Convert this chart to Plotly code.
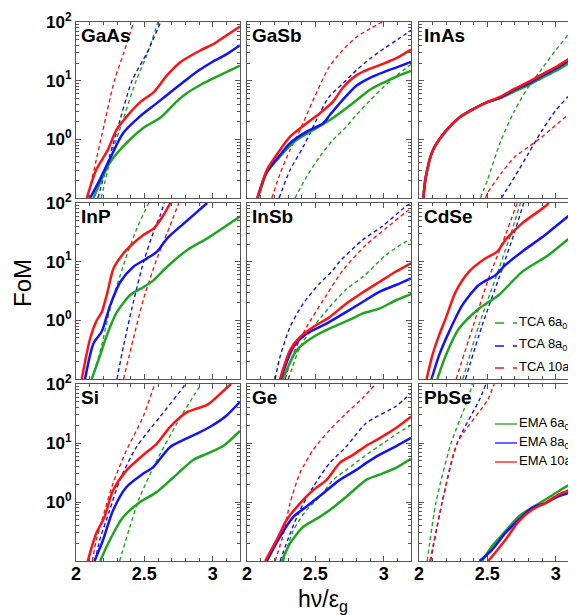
import plotly.graph_objects as go

# ---------------- data ----------------
materials = ["GaAs", "GaSb", "InAs", "InP", "InSb", "CdSe", "Si", "Ge", "PbSe"]
sizes = ["6", "8", "10"]
size_colors = {"6": "#1fa51f", "8": "#1212ff", "10": "#ff1212"}

GaAs = {
    "EMA6": ([2.128, 2.245, 2.344, 2.49, 2.613, 2.736, 2.81, 2.9, 3.0, 3.1, 3.2],
             [0.1, 0.39, 0.75, 1.55, 2.3, 4.4, 6.1, 8.2, 10.8, 14, 18]),
    "EMA8": ([2.103, 2.172, 2.245, 2.344, 2.466, 2.589, 2.712, 2.81, 2.9, 3.0, 3.1, 3.2],
             [0.1, 0.2, 0.45, 1.27, 2.44, 4.1, 6.95, 10.5, 15, 21, 28, 40]),
    "EMA10": ([2.079, 2.147, 2.233, 2.295, 2.393, 2.47, 2.569, 2.667, 2.765, 2.912, 3.01, 3.1, 3.2],
              [0.1, 0.30, 0.66, 1.44, 2.8, 4.3, 6.4, 12.4, 20.8, 33, 42.6, 59, 84]),
    "TCA6": ([2.184, 2.27, 2.319, 2.44, 2.52, 2.6], [0.1, 0.66, 1.44, 10, 28, 100]),
    "TCA8": ([2.16, 2.245, 2.295, 2.41, 2.52, 2.62], [0.1, 0.51, 1.27, 10, 30, 100]),
    "TCA10": ([2.086, 2.186, 2.282, 2.35, 2.422], [0.1, 1.1, 10.2, 30, 100]),
}
GaSb = {
    "EMA6": ([2.08, 2.145, 2.242, 2.364, 2.485, 2.606, 2.727, 2.8, 2.9, 3.0, 3.1, 3.2],
             [0.1, 0.27, 0.51, 0.98, 1.44, 2.14, 3.4, 4.6, 7.0, 9.3, 11.9, 14.6]),
    "EMA8": ([2.075, 2.145, 2.242, 2.315, 2.436, 2.558, 2.606, 2.727, 2.8, 2.9, 3.0, 3.1, 3.2],
             [0.1, 0.28, 0.54, 0.86, 1.35, 1.88, 2.6, 5.5, 8.2, 11.2, 14, 17, 20.8]),
    "EMA10": ([2.078, 2.145, 2.242, 2.315, 2.436, 2.533, 2.63, 2.7, 2.8, 2.9, 3.0, 3.1, 3.2],
              [0.1, 0.30, 0.66, 1.11, 1.88, 2.79, 4.4, 7.5, 12.3, 16, 19.5, 24.6, 33.8]),
    "TCA6": ([2.351, 2.436, 2.533, 2.63, 2.727, 2.8, 2.9, 3.0, 3.1, 3.2],
             [0.1, 0.23, 0.51, 0.98, 1.64, 2.6, 4.6, 7.8, 12.5, 19]),
    "TCA8": ([2.235, 2.315, 2.412, 2.533, 2.6, 2.7, 2.8, 2.9, 3.0, 3.1, 3.2],
             [0.1, 0.30, 0.75, 2.8, 5.3, 8.9, 15, 23.7, 35, 50, 72]),
    "TCA10": ([2.182, 2.242, 2.315, 2.388, 2.485, 2.6, 2.7, 2.8, 2.9, 2.99],
              [0.1, 0.26, 0.66, 1.44, 4.7, 17, 33, 55, 77, 100]),
}
InAs = {
    "EMA6": ([2.032, 2.05, 2.1, 2.2, 2.3, 2.4, 2.5, 2.6, 2.7, 2.8, 2.9, 3.0, 3.1, 3.2],
             [0.1, 0.23, 0.64, 1.42, 2.4, 3.3, 4.3, 5.1, 6.6, 8.3, 11.2, 14.6, 20, 27]),
    "EMA8": ([2.032, 2.05, 2.1, 2.2, 2.3, 2.4, 2.5, 2.6, 2.7, 2.8, 2.9, 3.0, 3.1, 3.2],
             [0.1, 0.23, 0.64, 1.42, 2.4, 3.3, 4.3, 5.2, 7.0, 8.9, 12, 16, 22, 29]),
    "EMA10": ([2.032, 2.05, 2.1, 2.2, 2.3, 2.4, 2.5, 2.6, 2.7, 2.8, 2.9, 3.0, 3.1, 3.2],
              [0.1, 0.23, 0.64, 1.42, 2.4, 3.3, 4.3, 5.4, 7.3, 9.5, 12.8, 17, 23.7, 32]),
    "TCA6": ([2.45, 2.5, 2.6, 2.7, 2.8, 2.9, 3.0, 3.1, 3.15],
             [0.1, 0.2, 0.96, 3.1, 7.8, 16, 33, 65, 100]),
    "TCA8": ([2.603, 2.7, 2.8, 2.9, 3.0, 3.1, 3.2], [0.1, 0.23, 0.57, 1.42, 3.1, 5.6, 8.5]),
    "TCA10": ([2.487, 2.5, 2.6, 2.7, 2.8, 2.9, 3.0, 3.1, 3.2],
              [0.1, 0.12, 0.26, 0.50, 0.74, 1.1, 1.74, 2.75, 4.3]),
}
InP = {
    "EMA6": ([2.115, 2.176, 2.225, 2.3, 2.397, 2.495, 2.569, 2.667, 2.814, 2.96, 3.2],
             [0.1, 0.25, 0.55, 1.39, 2.7, 3.7, 4.85, 8.2, 15.8, 25, 59]),
    "EMA8": ([2.066, 2.127, 2.189, 2.25, 2.324, 2.42, 2.52, 2.593, 2.667, 2.79, 2.96],
             [0.1, 0.4, 0.65, 1.8, 4.5, 8.2, 11.4, 14.8, 25, 45, 100]),
    "EMA10": ([2.042, 2.103, 2.152, 2.189, 2.225, 2.275, 2.348, 2.42, 2.495, 2.569, 2.642, 2.69],
              [0.1, 0.485, 1.0, 1.39, 2.7, 7.7, 13.9, 20.6, 28.7, 37, 63, 100]),
    "TCA6": ([2.115, 2.176, 2.25, 2.348, 2.446, 2.532], [0.1, 0.29, 1.58, 8.8, 37, 100]),
    "TCA8": ([2.3, 2.348, 2.42, 2.495, 2.569, 2.618, 2.645], [0.1, 0.37, 2.06, 10, 33, 63, 100]),
    "TCA10": ([2.348, 2.42, 2.495, 2.593, 2.69, 2.752], [0.1, 0.49, 2.35, 11.4, 42, 100]),
}
InSb = {
    "EMA6": ([2.262, 2.364, 2.485, 2.63, 2.77, 2.848, 2.968, 3.09, 3.2],
             [0.1, 0.31, 0.52, 0.77, 1.07, 1.31, 1.58, 2.2, 2.8]),
    "EMA8": ([2.247, 2.339, 2.436, 2.582, 2.727, 2.848, 2.968, 3.09, 3.2],
             [0.1, 0.35, 0.59, 0.88, 1.39, 2.07, 3.06, 4.0, 5.2]),
    "EMA10": ([2.242, 2.315, 2.388, 2.485, 2.606, 2.727, 2.848, 2.968, 3.09, 3.2],
              [0.1, 0.31, 0.52, 0.77, 1.14, 1.94, 3.0, 4.5, 6.8, 9.4]),
    "TCA6": ([2.303, 2.388, 2.485, 2.606, 2.727, 2.848, 3.017, 3.163, 3.2],
             [0.1, 0.35, 0.77, 1.7, 3.4, 5.5, 13, 22, 23.5]),
    "TCA8": ([2.206, 2.242, 2.315, 2.412, 2.533, 2.63, 2.676, 2.847, 2.99, 3.163, 3.2],
             [0.1, 0.24, 0.77, 1.94, 4.3, 7.2, 10, 23.5, 40, 88, 100]),
    "TCA10": ([2.279, 2.339, 2.436, 2.558, 2.703, 2.871, 3.017, 3.163, 3.2],
              [0.1, 0.27, 0.77, 2.2, 7.2, 19.3, 37, 70, 80]),
}
CdSe = {
    "EMA6": ([2.134, 2.195, 2.292, 2.438, 2.584, 2.754, 2.949, 3.12, 3.2],
             [0.1, 0.25, 0.72, 1.58, 2.7, 6.7, 13, 27, 32]),
    "EMA8": ([2.092, 2.146, 2.219, 2.316, 2.438, 2.56, 2.633, 2.754, 2.925, 3.12, 3.2],
             [0.1, 0.25, 0.63, 1.8, 4.0, 5.9, 8.8, 14.8, 28.7, 67, 85]),
    "EMA10": ([2.056, 2.097, 2.146, 2.195, 2.268, 2.365, 2.487, 2.572, 2.633, 2.754, 2.925, 2.95],
              [0.1, 0.25, 0.55, 1.07, 3.06, 6.7, 11.4, 14.8, 23.5, 45, 88, 100]),
    "TCA6": ([2.321, 2.438, 2.56, 2.67, 2.742], [0.1, 0.82, 5.2, 28.7, 100]),
    "TCA8": ([2.34, 2.462, 2.584, 2.693, 2.766], [0.1, 0.82, 5.2, 28.7, 100]),
    "TCA10": ([2.272, 2.39, 2.51, 2.633, 2.718], [0.1, 0.72, 5.2, 28.7, 100]),
}
Si = {
    "EMA6": ([2.177, 2.245, 2.344, 2.466, 2.59, 2.712, 2.86, 2.96, 3.08, 3.2],
             [0.1, 0.22, 0.55, 0.99, 1.47, 2.6, 5.2, 6.6, 9.0, 16]),
    "EMA8": ([2.135, 2.196, 2.27, 2.368, 2.49, 2.565, 2.687, 2.81, 2.9, 3.0, 3.1, 3.2],
             [0.1, 0.22, 0.71, 1.78, 3.0, 3.9, 8.5, 12, 15, 20, 29, 50]),
    "EMA10": ([2.086, 2.147, 2.208, 2.27, 2.368, 2.49, 2.59, 2.687, 2.81, 2.962, 3.06, 3.134],
              [0.1, 0.29, 0.55, 1.55, 3.4, 6.2, 9.7, 18.6, 33, 44.6, 70, 100]),
    "TCA6": ([2.319, 2.393, 2.466, 2.59, 2.736, 2.87, 2.92], [0.1, 0.37, 1.2, 5.0, 21, 68, 100]),
    "TCA8": ([2.14, 2.172, 2.245, 2.319, 2.442, 2.613, 2.786, 2.8], [0.1, 0.22, 0.71, 2.3, 8.5, 27.5, 89, 100]),
    "TCA10": ([2.12, 2.147, 2.196, 2.27, 2.368, 2.49, 2.576], [0.1, 0.22, 0.55, 2.03, 7.4, 27.5, 100]),
}
Ge = {
    "EMA6": ([2.255, 2.315, 2.412, 2.533, 2.606, 2.727, 2.873, 2.968, 3.09, 3.2],
             [0.1, 0.2, 0.38, 0.56, 0.73, 1.23, 2.37, 2.9, 3.8, 5.4]),
    "EMA8": ([2.145, 2.242, 2.339, 2.436, 2.558, 2.679, 2.8, 2.873, 2.968, 3.09, 3.2],
             [0.1, 0.26, 0.56, 0.84, 1.41, 2.37, 3.5, 4.6, 6.3, 8.8, 12.2]),
    "EMA10": ([2.133, 2.218, 2.291, 2.388, 2.485, 2.582, 2.679, 2.776, 2.873, 2.968, 3.09, 3.2],
              [0.1, 0.23, 0.5, 0.95, 1.6, 2.37, 4.6, 6.3, 9.0, 12, 18, 28]),
    "TCA6": ([2.267, 2.339, 2.436, 2.533, 2.63, 2.727, 2.873, 3.0, 3.1, 3.2],
             [0.1, 0.33, 0.73, 1.23, 2.37, 3.5, 6.3, 10, 14.5, 20]),
    "TCA8": ([2.242, 2.315, 2.388, 2.485, 2.606, 2.727, 2.873, 3.09, 3.2],
             [0.1, 0.29, 0.73, 1.82, 4.6, 8.7, 21.8, 42, 70]),
    "TCA10": ([2.206, 2.267, 2.315, 2.388, 2.485, 2.606, 2.727, 2.848, 2.94],
              [0.1, 0.29, 0.95, 3.1, 7.7, 16.7, 32, 58, 100]),
}
PbSe = {
    "EMA6": ([2.462, 2.535, 2.633, 2.73, 2.827, 2.925, 3.02, 3.14],
             [0.1, 0.18, 0.32, 0.57, 0.8, 1.1, 1.52, 2.24]),
    "EMA8": ([2.443, 2.535, 2.633, 2.73, 2.827, 2.925, 3.02, 3.14],
             [0.1, 0.155, 0.3, 0.5, 0.8, 0.96, 1.25, 1.52]),
    "EMA10": ([2.506, 2.535, 2.633, 2.73, 2.827, 2.925, 3.02, 3.14],
              [0.1, 0.12, 0.23, 0.47, 0.74, 0.96, 1.33, 1.73]),
    "TCA6": ([2.06, 2.125, 2.235, 2.356, 2.39], [0.1, 1.0, 10, 54, 100]),
    "TCA8": ([2.085, 2.17, 2.28, 2.442, 2.49], [0.1, 1.0, 10, 54, 100]),
    "TCA10": ([2.08, 2.17, 2.28, 2.503, 2.55], [0.1, 1.0, 10, 54, 100]),
}
panel_data = [GaAs, GaSb, InAs, InP, InSb, CdSe, Si, Ge, PbSe]

x_ticks = [2, 2.5, 3]
x_ticktext = ["2", "2.5", "3"]
y_ticks = [0.1, 1, 10, 100]
y_ticktext = ["", "10<sup>0</sup>", "10<sup>1</sup>", "10<sup>2</sup>"]

legend_tca = ["TCA 6a<sub>0</sub>", "TCA 8a<sub>0</sub>", "TCA 10a<sub>0</sub>"]
legend_ema = ["EMA 6a<sub>0</sub>", "EMA 8a<sub>0</sub>", "EMA 10a<sub>0</sub>"]

# ---------------- layout geometry ----------------
# Page pixels of the reference; the page adds an 8px body margin, so the
# figure itself is 8px smaller on each axis and page coords are shifted by 8.
PAGE_W, PAGE_H, OFF = 576, 615, 8
W, H = PAGE_W - OFF, PAGE_H - OFF
col_px = [(76, 240), (247, 411), (419, 583)]
row_px = [(22, 198), (203, 379), (384, 561)]


def px(xp):
    return (xp - OFF) / W


def py(yp):
    return 1 - (yp - OFF) / H


FONT = "Liberation Sans, Arial, Helvetica, sans-serif"
fig = go.Figure()

minor_y = [m * 10 ** e for e in (-1, 0, 1) for m in range(2, 10)]
minor_x = [round(2 + 0.1 * k, 1) for k in range(1, 12) if k not in (5, 10)]

for i, (name, data) in enumerate(zip(materials, panel_data)):
    r, c = divmod(i, 3)
    ax = "" if i == 0 else str(i + 1)
    x0, x1 = col_px[c]
    xmax_page = min(x1, PAGE_W)
    xr_max = 2 + 1.2 * (xmax_page - x0) / (x1 - x0)
    y0, y1 = row_px[r]

    for kind, dash, width in (("TCA", "4px,3px", 1.4), ("EMA", "solid", 2.5)):
        for s in sizes:
            xs, ys = data[kind + s]
            fig.add_trace(go.Scatter(
                x=xs, y=ys, mode="lines",
                line=dict(color=size_colors[s], width=width, dash=dash,
                          shape="spline", smoothing=0.7),
                name=f"{kind} {s}a0", showlegend=False,
                xaxis="x" + ax, yaxis="y" + ax,
            ))

    fig.layout["xaxis" + ax] = dict(
        domain=[px(x0), min(1.0, px(xmax_page))], anchor="y" + ax, automargin=False,
        range=[2, xr_max], showgrid=False, zeroline=False,
        showline=True, linecolor="#555", linewidth=1, mirror="allticks",
        ticks="inside", ticklen=5, tickcolor="#555",
        tickvals=x_ticks, ticktext=x_ticktext,
        showticklabels=(r == 2), ticklabelstandoff=-4,
        tickfont=dict(family=FONT, size=18, color="black", weight="bold"),
        minor=dict(tickvals=minor_x, ticks="inside", ticklen=3, tickcolor="#555"),
    )
    fig.layout["yaxis" + ax] = dict(
        domain=[py(y1), py(y0)], anchor="x" + ax, automargin=False,
        type="log", range=[-1, 2], showgrid=False, zeroline=False,
        showline=True, linecolor="#555", linewidth=1,
        mirror=("allticks" if c < 2 else False),
        ticks="inside", ticklen=5, tickcolor="#555",
        tickvals=y_ticks, ticktext=y_ticktext,
        showticklabels=(c == 0),
        tickfont=dict(family=FONT, size=17, color="black", weight="bold"),
        minor=dict(tickvals=minor_y, ticks="inside", ticklen=3, tickcolor="#555"),
    )
    fig.add_annotation(
        text=f"<b>{name}</b>", xref=f"x{ax} domain", yref=f"y{ax} domain",
        x=0.02, y=0.995, xanchor="left", yanchor="top", showarrow=False,
        font=dict(family=FONT, size=19, color="black"),
    )

# axis titles
fig.add_annotation(text="FoM", xref="paper", yref="paper", x=px(22), y=py(283),
                   xanchor="center", yanchor="middle", textangle=-90, showarrow=False,
                   font=dict(family=FONT, size=24, color="black"))
fig.add_annotation(text="hν/ε<sub>g</sub>", xref="paper", yref="paper", x=px(323), y=py(600),
                   xanchor="center", yanchor="middle", showarrow=False,
                   font=dict(family=FONT, size=23, color="black"))

# legends (short line samples + labels inside the CdSe and PbSe panels)
leg_rows_tca = [322, 345, 367]
leg_rows_ema = [423, 442, 461]
for labels, rows, dash in ((legend_tca, leg_rows_tca, "dash"), (legend_ema, leg_rows_ema, "solid")):
    for s, lab, yy in zip(sizes, labels, rows):
        fig.add_shape(type="line", xref="paper", yref="paper",
                      x0=px(495), x1=px(517), y0=py(yy + 1), y1=py(yy + 1),
                      line=dict(color=size_colors[s], width=1.3, dash=dash))
        fig.add_annotation(text=lab, xref="paper", yref="paper", x=px(517), y=py(yy),
                           xanchor="left", yanchor="middle", showarrow=False,
                           font=dict(family=FONT, size=13, color="black"))

fig.update_layout(
    width=W, height=H, margin=dict(l=0, r=0, t=0, b=0, autoexpand=False),
    paper_bgcolor="white", plot_bgcolor="white",
    showlegend=False,
)

fig.write_html("out.html")
